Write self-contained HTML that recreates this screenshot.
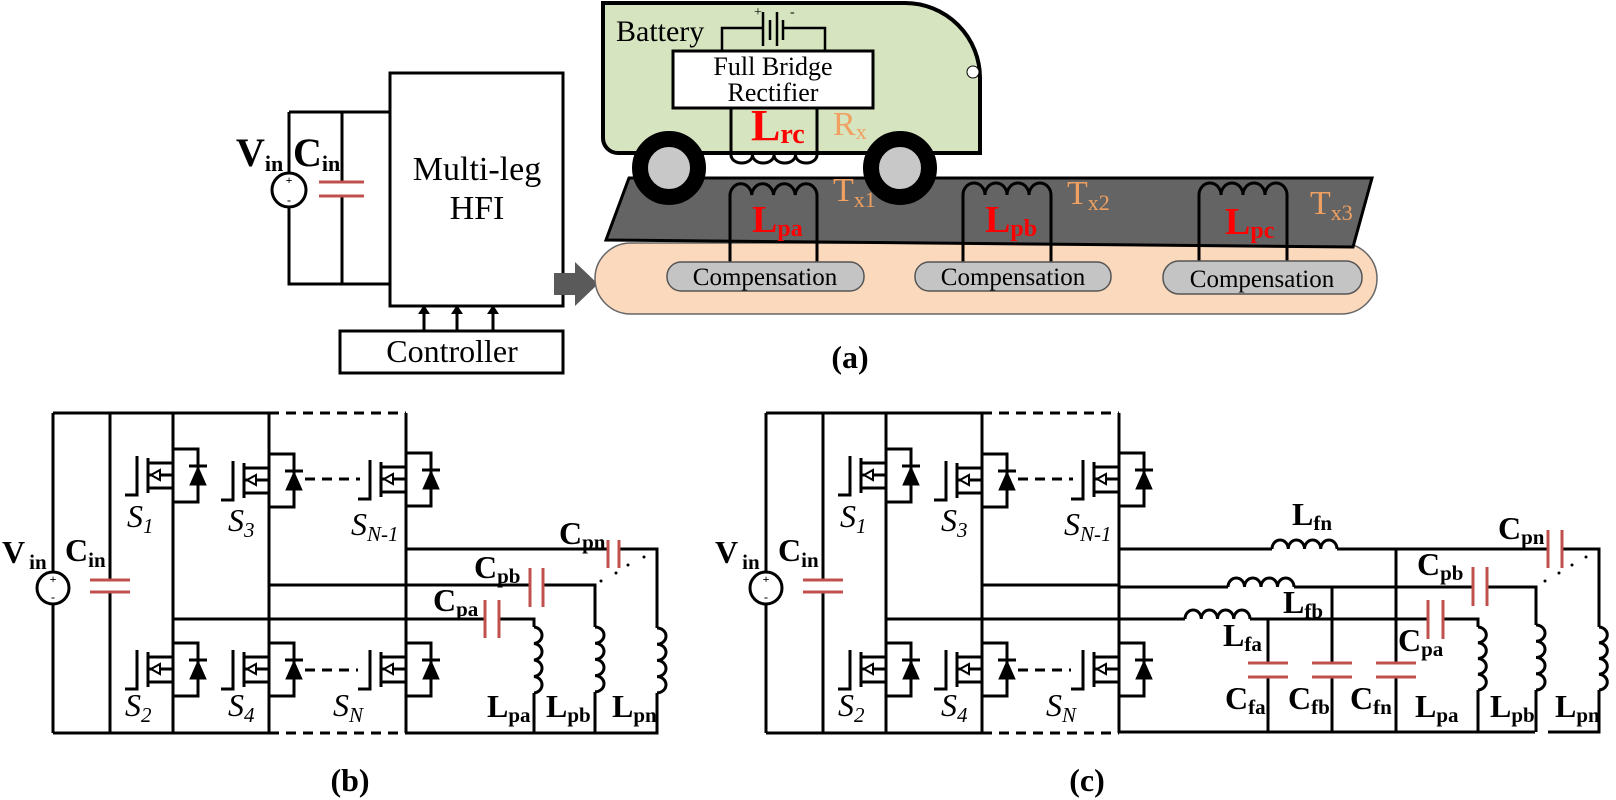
<!DOCTYPE html>
<html><head><meta charset="utf-8"><style>
html,body{margin:0;padding:0;background:#fff;}
svg{display:block;}
text{font-family:"Liberation Serif",serif;}
</style></head><body>
<svg width="1616" height="800" viewBox="0 0 1616 800" xmlns="http://www.w3.org/2000/svg">
<defs>
<g id="mos" fill="none" stroke="#000" stroke-width="3">
 <path d="M0,0 H25 V53 H0"/>
 <path d="M16,17 H34"/>
 <polygon points="17,36 33,36 25,18" fill="#000" stroke-width="1"/>
 <path d="M0,14 H-25 M0,39 H-25 M-25,9 V44 M-25,26 H0 M-36,7 V46 H-48"/>
 <polygon points="-22,26 -13,21 -13,31" fill="#fff" stroke-width="2"/>
</g>
</defs>

<!-- ============ (a) ============ -->
<g fill="none" stroke="#000" stroke-width="3">
 <path d="M289,112 H390 M289,112 V173 M289,207 V284 H390 M342,112 V182 M342,196 V284"/>
 <circle cx="289" cy="190" r="17"/>
 <rect x="390" y="73" width="173" height="233"/>
 <rect x="340" y="331" width="223" height="42"/>
 <path d="M424,331 V312 M457,331 V312 M493,331 V312"/>
</g>
<path d="M319,182 H364 M319,196 H364" stroke="#c0504d" stroke-width="3"/>
<g fill="#000"><polygon points="418,314 430,314 424,305"/><polygon points="451,314 463,314 457,305"/><polygon points="487,314 499,314 493,305"/></g>
<text x="289" y="184" font-size="12" text-anchor="middle" font-weight="bold">+</text>
<text x="289" y="204" font-size="12" text-anchor="middle" font-weight="bold">-</text>
<text x="236" y="166" font-size="40" font-weight="bold">V<tspan font-size="22" dy="5">in</tspan></text>
<text x="293" y="166" font-size="40" font-weight="bold">C<tspan font-size="22" dy="5">in</tspan></text>
<text x="477" y="180" font-size="34" text-anchor="middle">Multi-leg</text>
<text x="477" y="219" font-size="34" text-anchor="middle">HFI</text>
<text x="452" y="362" font-size="32" text-anchor="middle">Controller</text>
<polygon points="554,273 575,273 575,262 598,284 575,306 575,295 554,295" fill="#5a5a5a"/>

<!-- peach base -->
<rect x="595" y="243" width="782" height="71" rx="36" fill="#fad9bd" stroke="#666" stroke-width="1.5"/>
<!-- platform -->
<polygon points="629,178 1372,178 1353,247 606,240" fill="#646464" stroke="#000" stroke-width="3"/>
<!-- car -->
<path d="M603,3 H905 A75,75 0 0 1 980,78 V153 H618 A15,15 0 0 1 603,138 Z" fill="#d6e4c0" stroke="#000" stroke-width="4"/>
<circle cx="973" cy="72" r="6" fill="#fff" stroke="#000" stroke-width="1"/>
<text x="616" y="41" font-size="30">Battery</text>
<g fill="none" stroke="#000" stroke-width="2.5">
 <path d="M722,51 V28 H763 M825,51 V28 H783"/>
 <path d="M763,12 V46 M770,20 V40 M777,12 V46 M783,20 V40"/>
</g>
<text x="754" y="16" font-size="14">+</text><text x="790" y="16" font-size="14">-</text>
<rect x="673" y="51" width="200" height="57" fill="#fff" stroke="#000" stroke-width="3"/>
<text x="773" y="75" font-size="26" text-anchor="middle">Full Bridge</text>
<text x="773" y="101" font-size="26" text-anchor="middle">Rectifier</text>
<g fill="none" stroke="#000" stroke-width="3">
 <path d="M731,108 V155 M817,108 V155"/>
 <path d="M731,155 a10.75,8 0 0 0 21.5,0 a10.75,8 0 0 0 21.5,0 a10.75,8 0 0 0 21.5,0 a10.75,8 0 0 0 21.5,0"/>
</g>
<text x="751" y="140" font-size="44" font-weight="bold" fill="#f00">L<tspan font-size="28" dy="3">rc</tspan></text>
<text x="833" y="135" font-size="34" fill="#f0a060">R<tspan font-size="22" dy="4">x</tspan></text>
<!-- wheels -->
<circle cx="669" cy="168" r="29" fill="#c8c8c8" stroke="#000" stroke-width="16"/>
<circle cx="900" cy="168" r="29" fill="#c8c8c8" stroke="#000" stroke-width="16"/>
<!-- tx coils -->
<g fill="none" stroke="#000" stroke-width="3">
 <path d="M730,262 V195 a10.9,12 0 0 1 21.75,0 a10.9,12 0 0 1 21.75,0 a10.9,12 0 0 1 21.75,0 a10.9,12 0 0 1 21.75,0 V262"/>
 <path d="M963,262 V195 a11,12 0 0 1 22,0 a11,12 0 0 1 22,0 a11,12 0 0 1 22,0 a11,12 0 0 1 22,0 V262"/>
 <path d="M1199,262 V195 a11,12 0 0 1 22,0 a11,12 0 0 1 22,0 a11,12 0 0 1 22,0 a11,12 0 0 1 22,0 V262"/>
</g>
<text x="752" y="232" font-size="38" font-weight="bold" fill="#f00">L<tspan font-size="24" dy="4">pa</tspan></text>
<text x="985" y="232" font-size="38" font-weight="bold" fill="#f00">L<tspan font-size="24" dy="4">pb</tspan></text>
<text x="1225" y="234" font-size="38" font-weight="bold" fill="#f00">L<tspan font-size="24" dy="4">pc</tspan></text>
<text x="833" y="201" font-size="34" fill="#f0a060">T<tspan font-size="22" dy="6">x1</tspan></text>
<text x="1067" y="204" font-size="34" fill="#f0a060">T<tspan font-size="22" dy="6">x2</tspan></text>
<text x="1310" y="214" font-size="34" fill="#f0a060">T<tspan font-size="22" dy="6">x3</tspan></text>
<g fill="#c4c4c4" stroke="#555" stroke-width="1.5">
 <rect x="667" y="262" width="197" height="29" rx="14"/>
 <rect x="915" y="262" width="196" height="29" rx="14"/>
 <rect x="1163" y="261" width="199" height="33" rx="16"/>
</g>
<g font-size="25" text-anchor="middle">
 <text x="765" y="285">Compensation</text>
 <text x="1013" y="285">Compensation</text>
 <text x="1262" y="287">Compensation</text>
</g>
<text x="850" y="368" font-size="32" font-weight="bold" text-anchor="middle">(a)</text>

<!-- ============ (b) and (c) common bridge ============ -->
<g id="bridge">
 <g fill="none" stroke="#000" stroke-width="3">
  <path d="M53,413 H269 M53,733 H269 M53,413 V572 M53,604 V733 M110,413 V580 M110,592 V733 M173,413 V733 M269,413 V733 M406,413 V733"/>
  <path d="M269,413 H406 M269,733 H406 M305,479 H360 M305,670 H358" stroke-dasharray="10,7"/>
  <circle cx="53" cy="588" r="16"/>
  <path d="M269,585 H406 M173,619 H406"/>
 </g>
 <path d="M90,580 H130 M90,592 H130" stroke="#c0504d" stroke-width="3"/>
 <text x="53" y="583" font-size="12" text-anchor="middle" font-weight="bold">+</text>
 <text x="53" y="601" font-size="12" text-anchor="middle" font-weight="bold">-</text>
 <use href="#mos" x="173" y="449"/>
 <use href="#mos" x="269" y="454"/>
 <use href="#mos" x="406" y="453"/>
 <use href="#mos" x="173" y="643"/>
 <use href="#mos" x="269" y="643"/>
 <use href="#mos" x="406" y="643"/>
 <text x="2" y="563" font-size="32" font-weight="bold">V<tspan font-size="21" dy="6" dx="4">in</tspan></text>
 <text x="65" y="561" font-size="32" font-weight="bold">C<tspan font-size="21" dy="6">in</tspan></text>
 <g font-size="32" font-style="italic">
  <text x="127" y="527">S<tspan font-size="21" dy="6">1</tspan></text>
  <text x="228" y="531">S<tspan font-size="21" dy="6">3</tspan></text>
  <text x="351" y="535">S<tspan font-size="21" dy="6">N-1</tspan></text>
  <text x="125" y="716">S<tspan font-size="21" dy="6">2</tspan></text>
  <text x="228" y="716">S<tspan font-size="21" dy="6">4</tspan></text>
  <text x="333" y="716">S<tspan font-size="21" dy="6">N</tspan></text>
 </g>
</g>
<use href="#bridge" x="713" y="0"/>

<!-- (b) output -->
<g fill="none" stroke="#000" stroke-width="3">
 <path d="M406,549 H608 M619,549 H657 V628 M657,693 V733 H406"/>
 <path d="M406,585 H530 M543,585 H595 V627 M595,692 V733"/>
 <path d="M406,619 H485 M499,619 H534 V627 M534,693 V733"/>
 <path d="M657,628 a9,8.1 0 0 1 0,16.2 a9,8.1 0 0 1 0,16.2 a9,8.1 0 0 1 0,16.2 a9,8.1 0 0 1 0,16.2"/>
 <path d="M595,627 a9,8.1 0 0 1 0,16.2 a9,8.1 0 0 1 0,16.2 a9,8.1 0 0 1 0,16.2 a9,8.1 0 0 1 0,16.2"/>
 <path d="M534,627 a9,8.3 0 0 1 0,16.5 a9,8.3 0 0 1 0,16.5 a9,8.3 0 0 1 0,16.5 a9,8.3 0 0 1 0,16.5"/>
</g>
<path d="M608,540 V568 M619,540 V568 M530,568 V607 M543,568 V607 M485,600 V638 M499,600 V638" stroke="#c0504d" stroke-width="3"/>
<g fill="#000"><circle cx="644" cy="557" r="1.5"/><circle cx="628" cy="565" r="1.5"/><circle cx="616" cy="573" r="1.5"/><circle cx="601" cy="581" r="1.5"/></g>
<g font-size="32" font-weight="bold">
 <text x="559" y="544">C<tspan font-size="21" dy="5">pn</tspan></text>
 <text x="474" y="578">C<tspan font-size="21" dy="5">pb</tspan></text>
 <text x="433" y="611">C<tspan font-size="21" dy="5">pa</tspan></text>
 <text x="487" y="717">L<tspan font-size="21" dy="5">pa</tspan></text>
 <text x="546" y="717">L<tspan font-size="21" dy="5">pb</tspan></text>
 <text x="612" y="717">L<tspan font-size="21" dy="5">pn</tspan></text>
</g>
<text x="350" y="791" font-size="32" font-weight="bold" text-anchor="middle">(b)</text>

<!-- (c) output -->
<g fill="none" stroke="#000" stroke-width="3">
 <path d="M1119,549 H1272 M1337,549 H1548 M1562,549 H1599 V627 M1599,690 V732 H1548 M1535,732 H1119"/>
 <path d="M1272,549 a8.1,9 0 0 1 16.25,0 a8.1,9 0 0 1 16.25,0 a8.1,9 0 0 1 16.25,0 a8.1,9 0 0 1 16.25,0"/>
 <path d="M1119,587 H1228 M1294,587 H1473 M1487,587 H1536 V625 M1536,690 V732"/>
 <path d="M1228,587 a8.25,9 0 0 1 16.5,0 a8.25,9 0 0 1 16.5,0 a8.25,9 0 0 1 16.5,0 a8.25,9 0 0 1 16.5,0"/>
 <path d="M1119,619 H1185 M1250,619 H1428 M1443,619 H1478 V627 M1478,690 V732"/>
 <path d="M1185,619 a8.1,9 0 0 1 16.25,0 a8.1,9 0 0 1 16.25,0 a8.1,9 0 0 1 16.25,0 a8.1,9 0 0 1 16.25,0"/>
 <path d="M1268,619 V663 M1268,677 V732 M1332,587 V663 M1332,677 V732 M1396,549 V663 M1396,677 V732"/>
 <path d="M1599,627 a9,7.9 0 0 1 0,15.75 a9,7.9 0 0 1 0,15.75 a9,7.9 0 0 1 0,15.75 a9,7.9 0 0 1 0,15.75"/>
 <path d="M1536,625 a9,8.1 0 0 1 0,16.25 a9,8.1 0 0 1 0,16.25 a9,8.1 0 0 1 0,16.25 a9,8.1 0 0 1 0,16.25"/>
 <path d="M1478,627 a9,7.9 0 0 1 0,15.75 a9,7.9 0 0 1 0,15.75 a9,7.9 0 0 1 0,15.75 a9,7.9 0 0 1 0,15.75"/>
</g>
<path d="M1548,530 V568 M1562,530 V568 M1473,567 V606 M1487,567 V606 M1428,600 V639 M1443,600 V639 M1248,663 H1288 M1248,677 H1288 M1312,663 H1352 M1312,677 H1352 M1376,663 H1416 M1376,677 H1416" stroke="#c0504d" stroke-width="3"/>
<g fill="#000"><circle cx="1586" cy="557" r="1.5"/><circle cx="1572" cy="565" r="1.5"/><circle cx="1559" cy="573" r="1.5"/><circle cx="1545" cy="581" r="1.5"/></g>
<g font-size="32" font-weight="bold">
 <text x="1292" y="525">L<tspan font-size="21" dy="5">fn</tspan></text>
 <text x="1283" y="613">L<tspan font-size="21" dy="5">fb</tspan></text>
 <text x="1223" y="646">L<tspan font-size="21" dy="5">fa</tspan></text>
 <text x="1225" y="709">C<tspan font-size="21" dy="5">fa</tspan></text>
 <text x="1288" y="709">C<tspan font-size="21" dy="5">fb</tspan></text>
 <text x="1350" y="709">C<tspan font-size="21" dy="5">fn</tspan></text>
 <text x="1398" y="651">C<tspan font-size="21" dy="5">pa</tspan></text>
 <text x="1417" y="575">C<tspan font-size="21" dy="5">pb</tspan></text>
 <text x="1498" y="539">C<tspan font-size="21" dy="5">pn</tspan></text>
 <text x="1415" y="717">L<tspan font-size="21" dy="5">pa</tspan></text>
 <text x="1490" y="717">L<tspan font-size="21" dy="5">pb</tspan></text>
 <text x="1555" y="717">L<tspan font-size="21" dy="5">pn</tspan></text>
</g>
<text x="1087" y="791" font-size="32" font-weight="bold" text-anchor="middle">(c)</text>
</svg>
</body></html>
